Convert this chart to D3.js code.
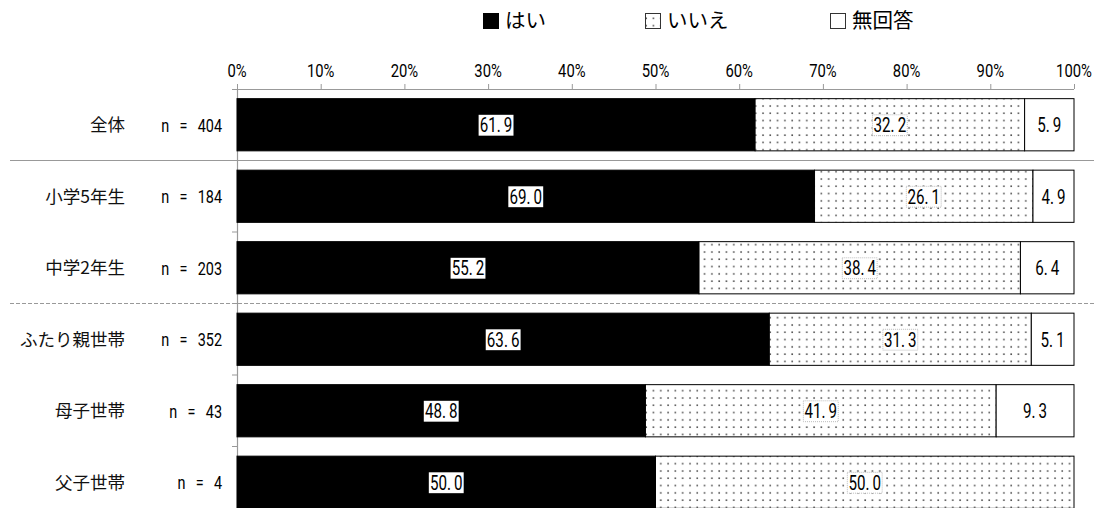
<!DOCTYPE html>
<html><head><meta charset="utf-8">
<script src="https://cdn.jsdelivr.net/npm/d3@7"></script>
<style>
body{margin:0;background:#fff;}
svg{display:block;}
.num{font-family:"Roboto","Noto Sans",sans-serif;}
.jp{font-family:"Noto Sans CJK JP","Noto Sans",sans-serif;}
</style>
</head><body>
<svg id="chart" width="1094" height="508"></svg>
<script>
const categories = ["全体","小学5年生","中学2年生","ふたり親世帯","母子世帯","父子世帯"];
const nLabels = ["n = 404","n = 184","n = 203","n = 352","n = 43","n = 4"];
const seriesNames = ["はい","いいえ","無回答"];
const yes = [61.9,69.0,55.2,63.6,48.8,50.0];
const no = [32.2,26.1,38.4,31.3,41.9,50.0];
const noAnswer = [5.9,4.9,6.4,5.1,9.3,0.0];
const xTicks = [0,10,20,30,40,50,60,70,80,90,100];

const svg = d3.select("#chart");
const defs = svg.append("defs");
const pat = defs.append("pattern").attr("id","dots").attr("patternUnits","userSpaceOnUse")
  .attr("width",7.3).attr("height",7.3);
pat.append("rect").attr("width",7.3).attr("height",7.3).attr("fill","#fff");
pat.append("rect").attr("x",3).attr("y",3).attr("width",1.6).attr("height",1.6).attr("fill","#555");

const x = d3.scaleLinear().domain([0,100]).range([237,1074]);
const y = d3.scaleBand().domain(categories).range([89,518]).paddingInner(0.27).paddingOuter(0.135);

function ctext(parent, tx, ty, str, size, anchor, sx){
  const g = parent.append("g").attr("transform",`translate(${tx},${ty}) scale(${sx},1)`);
  const t = g.append("text").attr("class","num").attr("x",0).attr("y",0).attr("dy","0.36em")
    .attr("text-anchor",anchor).attr("font-size",size).attr("fill","#000").text(str);
  return {g,t};
}

const step = y.step();
svg.append("line").attr("x1",10).attr("x2",1094).attr("y1",89+step).attr("y2",89+step)
  .attr("stroke","#999").attr("stroke-width",1.2);
svg.append("line").attr("x1",10).attr("x2",1094).attr("y1",89+3*step).attr("y2",89+3*step)
  .attr("stroke","#999").attr("stroke-width",1).attr("stroke-dasharray","4,2");

const xAxis = d3.axisTop(x).tickValues(xTicks).tickFormat("").tickSizeOuter(0).tickSize(5);
const gx = svg.append("g").attr("transform","translate(0,89)").call(xAxis);
gx.select(".domain").attr("stroke","#999").attr("d","M232,0.5H1074");
gx.selectAll(".tick line").attr("stroke","#999");
xTicks.forEach(v=>{ ctext(svg, x(v), 70, v+"%", 18.5, "middle", 0.8); });

svg.append("line").attr("x1",237.5).attr("x2",237.5).attr("y1",89).attr("y2",508).attr("stroke","#999").attr("stroke-width",1.2);
for(let i=1;i<categories.length;i++){
  svg.append("line").attr("x1",232).attr("x2",237).attr("y1",89+i*step).attr("y2",89+i*step).attr("stroke","#999");
}

const rows = categories.map((c,i)=>({c, vals:[yes[i],no[i],noAnswer[i]]}));
const fills = ["#000","url(#dots)","#fff"];
rows.forEach((r,i)=>{
  let acc=0;
  const cy=y(r.c)+y.bandwidth()/2;
  r.vals.forEach((v,k)=>{
    const x0=x(acc), x1=x(acc+v); acc+=v;
    if(v<=0) return;
    svg.append("rect").attr("x",x0).attr("y",y(r.c)).attr("width",x1-x0).attr("height",y.bandwidth())
      .attr("fill",fills[k]).attr("stroke","#000").attr("stroke-width",1);
    const s = v.toFixed(1).replace(".",".\u2009");
    const {g,t} = ctext(svg, (x0+x1)/2, cy, s, 20.5, "middle", 0.74);
    if(k<2){
      const bb=t.node().getBBox();
      g.insert("rect", ()=>t.node()).attr("x",bb.x-1.5).attr("y",bb.y+2).attr("width",bb.width+3).attr("height",bb.height-3)
        .attr("fill","#fff").attr("stroke", k==1?"#bbb":"none").attr("stroke-dasharray","1,1").attr("vector-effect","non-scaling-stroke");
    }
  });
  svg.append("text").attr("class","jp").attr("x",125).attr("y",cy).attr("dy","0.36em").attr("text-anchor","end")
    .attr("font-size",17.5).attr("fill","#111").text(r.c);
  ctext(svg, 222, cy, nLabels[i].replace(/ /g,"\u2002\u2009"), 19, "end", 0.76);
});

const legX=[483,645,830];
seriesNames.forEach((s,k)=>{
  svg.append("rect").attr("x",legX[k]+0.5).attr("y",13.5).attr("width",15).attr("height",15)
    .attr("fill",fills[k]).attr("stroke",k==0?"#000":"#333").attr("stroke-width",1);
  svg.append("text").attr("class","jp").attr("x",legX[k]+22).attr("y",21).attr("dy","0.36em")
    .attr("font-size",20.5).attr("fill","#000").text(s);
});
</script>
</body></html>
